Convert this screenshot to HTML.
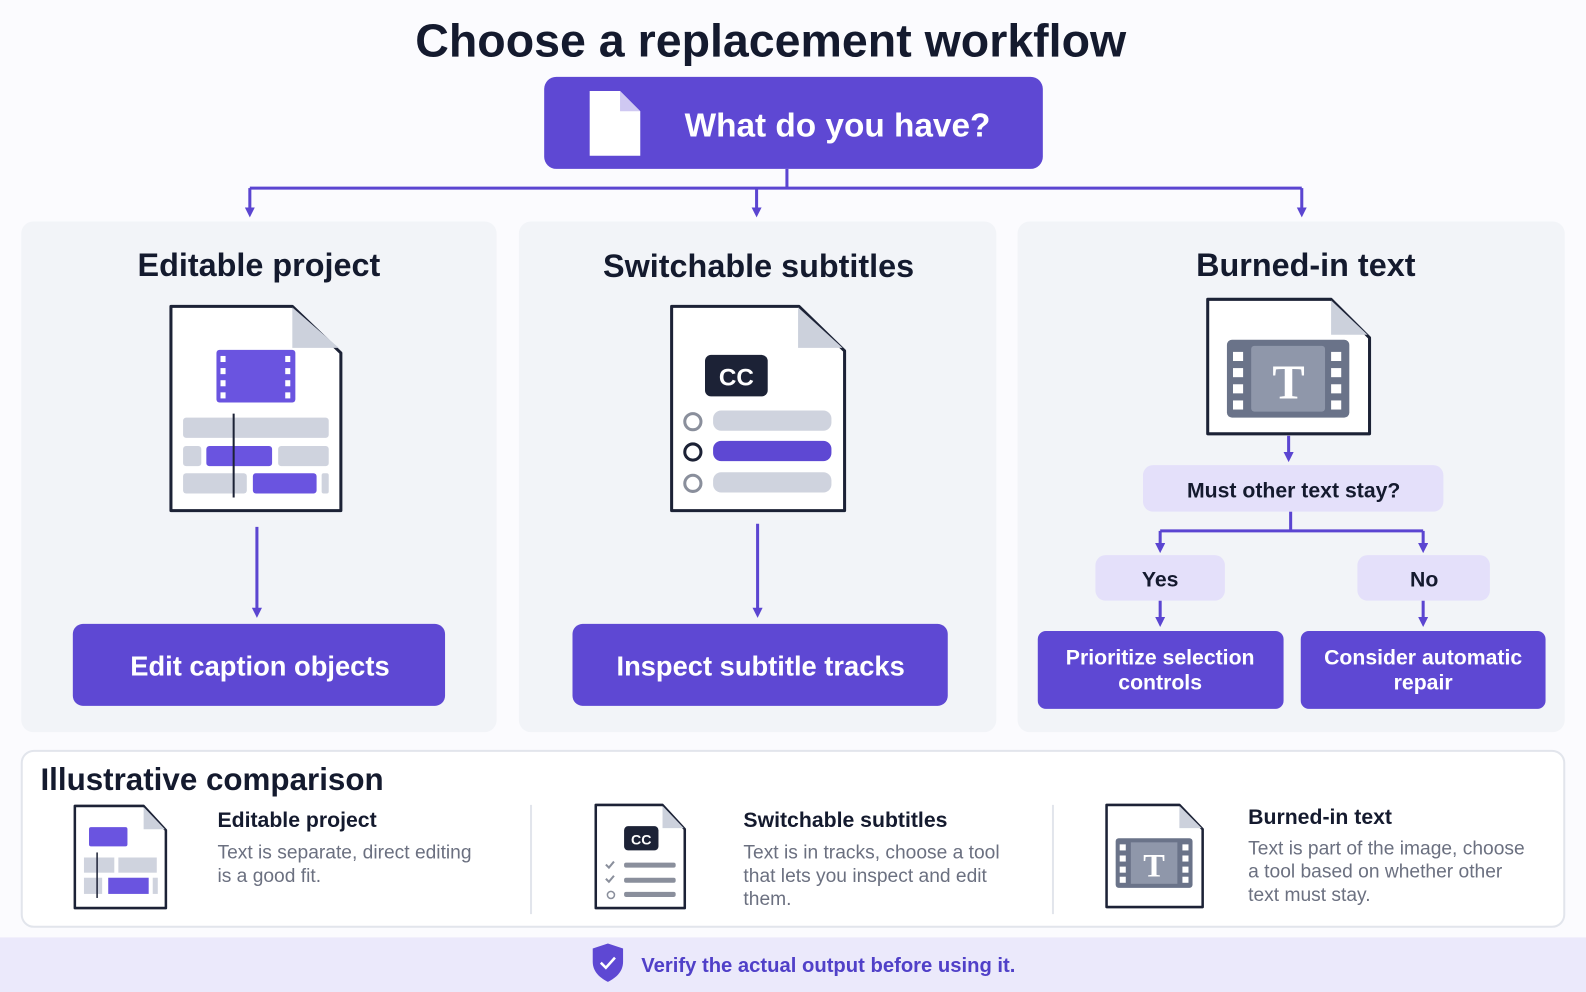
<!DOCTYPE html>
<html><head><meta charset="utf-8"><style>
html,body{margin:0;padding:0;background:#fbfbfe;}
svg{display:block;font-family:"Liberation Sans",sans-serif;}
.h{font-weight:700;fill:#141a2e;}
.w{font-weight:700;fill:#fff;}
.g{fill:#6b7080;}
</style></head><body>
<svg width="1586" height="992" viewBox="0 0 1568 981" preserveAspectRatio="none" xmlns="http://www.w3.org/2000/svg">
<defs>
<marker id="a" markerWidth="10" markerHeight="10" refX="5" refY="5" orient="auto" markerUnits="userSpaceOnUse"><path d="M0,0 L10,5 L0,10 z" fill="#5b45d1"/></marker>
</defs>
<rect width="1568" height="981" fill="#fbfbfe"/>
<text x="762" y="56" text-anchor="middle" class="h" font-size="46">Choose a replacement workflow</text>
<rect x="538" y="76" width="493" height="91" rx="12" fill="#5e48d3"/>
<path d="M583,90 h30 l20,20 v44 h-50 z" fill="#fff"/><path d="M613,90 v20 h20" fill="#cfc8f2"/>
<text x="828" y="135" text-anchor="middle" class="w" font-size="33">What do you have?</text>
<g stroke="#5b45d1" stroke-width="3" fill="none">
<path d="M778,167 V186"/><path d="M247,186 H1287"/>
<path d="M247,186 V210" marker-end="url(#a)"/><path d="M748,186 V210" marker-end="url(#a)"/><path d="M1287,186 V210" marker-end="url(#a)"/>
</g>
<rect x="21" y="219" width="470" height="505" rx="12" fill="#f2f4f8"/>
<rect x="513" y="219" width="472" height="505" rx="12" fill="#f2f4f8"/>
<rect x="1006" y="219" width="541" height="505" rx="12" fill="#f2f4f8"/>
<text x="256" y="273" text-anchor="middle" class="h" font-size="32">Editable project</text>
<text x="750" y="274" text-anchor="middle" class="h" font-size="32">Switchable subtitles</text>
<text x="1291" y="273" text-anchor="middle" class="h" font-size="32">Burned-in text</text>
<path d="M169,303 h120 l48,46 v156 h-168 z" fill="#fff" stroke="#1c2236" stroke-width="3" stroke-linejoin="round"/>
<path d="M289,304 v40 h46 z" fill="#ccd1dc"/>
<rect x="214" y="346" width="78" height="52" rx="3" fill="#6a54e0"/>
<g fill="#fff"><rect x="218" y="352" width="5" height="6"/><rect x="218" y="364" width="5" height="6"/><rect x="218" y="376" width="5" height="6"/><rect x="218" y="388" width="5" height="6"/><rect x="282" y="352" width="5" height="6"/><rect x="282" y="364" width="5" height="6"/><rect x="282" y="376" width="5" height="6"/><rect x="282" y="388" width="5" height="6"/></g>
<rect x="181" y="413" width="144" height="20" rx="3" fill="#cfd3de"/>
<rect x="181" y="441" width="18" height="20" rx="3" fill="#cfd3de"/><rect x="204" y="441" width="65" height="20" rx="3" fill="#6a54e0"/><rect x="275" y="441" width="50" height="20" rx="3" fill="#cfd3de"/>
<rect x="181" y="468" width="63" height="20" rx="3" fill="#cfd3de"/><rect x="250" y="468" width="63" height="20" rx="3" fill="#6a54e0"/><rect x="318" y="468" width="7" height="20" rx="2" fill="#cfd3de"/>
<path d="M231,409 V492" stroke="#1c2236" stroke-width="2"/>
<path d="M664,303 h126 l45,44 v158 h-171 z" fill="#fff" stroke="#1c2236" stroke-width="3" stroke-linejoin="round"/>
<path d="M789,304 v40 h44 z" fill="#ccd1dc"/>
<rect x="697" y="351" width="62" height="41" rx="6" fill="#1c2236"/>
<text x="728" y="381" text-anchor="middle" class="w" font-size="24">CC</text>
<g fill="none" stroke-width="3"><circle cx="685" cy="417" r="8" stroke="#8a8f9c"/><circle cx="685" cy="447" r="8" stroke="#1c2236"/><circle cx="685" cy="478" r="8" stroke="#8a8f9c"/></g>
<rect x="705" y="406" width="117" height="20" rx="8" fill="#cfd3de"/><rect x="705" y="436" width="117" height="20" rx="8" fill="#5e48d3"/><rect x="705" y="467" width="117" height="20" rx="8" fill="#cfd3de"/>
<path d="M1194,296 h122 l38,38 v95 h-160 z" fill="#fff" stroke="#1c2236" stroke-width="3" stroke-linejoin="round"/>
<path d="M1316,297 v34 h36 z" fill="#ccd1dc"/>
<rect x="1213" y="336" width="121" height="77" rx="5" fill="#6a7389"/>
<rect x="1237" y="342" width="73" height="65" rx="3" fill="#8f97aa"/>
<g fill="#fff"><rect x="1219" y="348" width="10" height="9"/><rect x="1219" y="364" width="10" height="9"/><rect x="1219" y="380" width="10" height="9"/><rect x="1219" y="396" width="10" height="9"/><rect x="1316" y="348" width="10" height="9"/><rect x="1316" y="364" width="10" height="9"/><rect x="1316" y="380" width="10" height="9"/><rect x="1316" y="396" width="10" height="9"/></g>
<text x="1274" y="394" text-anchor="middle" fill="#fff" font-family="Liberation Serif,serif" font-weight="700" font-size="48">T</text>
<g stroke="#5b45d1" stroke-width="3" fill="none">
<path d="M254,521 V606" marker-end="url(#a)"/><path d="M749,518 V606" marker-end="url(#a)"/>
<path d="M1274,431 V452" marker-end="url(#a)"/>
<path d="M1276,506 V525 M1147,525 H1407"/><path d="M1147,525 V542" marker-end="url(#a)"/><path d="M1407,525 V542" marker-end="url(#a)"/>
<path d="M1147,594 V615" marker-end="url(#a)"/><path d="M1407,594 V615" marker-end="url(#a)"/>
</g>
<rect x="1130" y="460" width="297" height="46" rx="10" fill="#e4e0fa"/>
<text x="1279" y="492" text-anchor="middle" class="h" font-size="21">Must other text stay?</text>
<rect x="1083" y="549" width="128" height="45" rx="10" fill="#e4e0fa"/>
<text x="1147" y="580" text-anchor="middle" class="h" font-size="21">Yes</text>
<rect x="1342" y="549" width="131" height="45" rx="10" fill="#e4e0fa"/>
<text x="1408" y="580" text-anchor="middle" class="h" font-size="21">No</text>
<rect x="72" y="617" width="368" height="81" rx="10" fill="#5e48d3"/>
<text x="257" y="668" text-anchor="middle" class="w" font-size="27">Edit caption objects</text>
<rect x="566" y="617" width="371" height="81" rx="10" fill="#5e48d3"/>
<text x="752" y="668" text-anchor="middle" class="w" font-size="27">Inspect subtitle tracks</text>
<rect x="1026" y="624" width="243" height="77" rx="8" fill="#5e48d3"/>
<text x="1147" y="657" text-anchor="middle" class="w" font-size="21">Prioritize selection</text>
<text x="1147" y="682" text-anchor="middle" class="w" font-size="21">controls</text>
<rect x="1286" y="624" width="242" height="77" rx="8" fill="#5e48d3"/>
<text x="1407" y="657" text-anchor="middle" class="w" font-size="21">Consider automatic</text>
<text x="1407" y="682" text-anchor="middle" class="w" font-size="21">repair</text>
<rect x="21.5" y="742.5" width="1525" height="174" rx="12" fill="#fff" stroke="#e2e5ec" stroke-width="2"/>
<text x="40" y="781" class="h" font-size="31">Illustrative comparison</text>
<path d="M525,796 V904 M1041,796 V904" stroke="#e2e5ec" stroke-width="2"/>
<path d="M74,797 h68 l22,24 v77 h-90 z" fill="#fff" stroke="#1c2236" stroke-width="2.5" stroke-linejoin="round"/>
<path d="M142,798 v22 h21 z" fill="#ccd1dc"/>
<rect x="88" y="818" width="38" height="19" rx="2" fill="#6a54e0"/>
<rect x="83" y="848" width="30" height="15" fill="#cfd3de"/><rect x="117" y="848" width="38" height="15" fill="#cfd3de"/>
<rect x="83" y="868" width="18" height="16" fill="#cfd3de"/><rect x="107" y="868" width="40" height="16" fill="#6a54e0"/><rect x="151" y="868" width="5" height="16" fill="#cfd3de"/>
<path d="M96,843 V888" stroke="#1c2236" stroke-width="1.5"/>
<text x="215" y="818" class="h" font-size="21">Editable project</text>
<text x="215" y="849" class="g" font-size="19">Text is separate, direct editing</text>
<text x="215" y="872" class="g" font-size="19">is a good fit.</text>
<path d="M589,796 h66 l22,24 v78 h-88 z" fill="#fff" stroke="#1c2236" stroke-width="2.5" stroke-linejoin="round"/>
<path d="M655,797 v22 h21 z" fill="#ccd1dc"/>
<rect x="617" y="817" width="34" height="24" rx="4" fill="#1c2236"/>
<text x="634" y="835" text-anchor="middle" class="w" font-size="14">CC</text>
<g fill="#8a8f9c"><rect x="617" y="853" width="51" height="5" rx="2"/><rect x="617" y="868" width="51" height="5" rx="2"/><rect x="617" y="882" width="51" height="5" rx="2"/></g>
<path d="M599,855 l3,3 5,-6 M599,869 l3,3 5,-6" stroke="#8a8f9c" stroke-width="2" fill="none"/>
<circle cx="604" cy="885" r="3.5" stroke="#8a8f9c" stroke-width="1.5" fill="none"/>
<text x="735" y="818" class="h" font-size="21">Switchable subtitles</text>
<text x="735" y="849" class="g" font-size="19">Text is in tracks, choose a tool</text>
<text x="735" y="872" class="g" font-size="19">that lets you inspect and edit</text>
<text x="735" y="895" class="g" font-size="19">them.</text>
<path d="M1094,796 h72 l23,24 v77 h-95 z" fill="#fff" stroke="#1c2236" stroke-width="2.5" stroke-linejoin="round"/>
<path d="M1166,797 v22 h22 z" fill="#ccd1dc"/>
<rect x="1103" y="829" width="76" height="49" rx="3" fill="#6a7389"/>
<rect x="1118" y="833" width="46" height="41" fill="#8f97aa"/>
<g fill="#fff"><rect x="1107" y="835" width="6" height="6"/><rect x="1107" y="846" width="6" height="6"/><rect x="1107" y="857" width="6" height="6"/><rect x="1107" y="867" width="6" height="6"/><rect x="1169" y="835" width="6" height="6"/><rect x="1169" y="846" width="6" height="6"/><rect x="1169" y="857" width="6" height="6"/><rect x="1169" y="867" width="6" height="6"/></g>
<text x="1141" y="867" text-anchor="middle" fill="#fff" font-family="Liberation Serif,serif" font-weight="700" font-size="32">T</text>
<text x="1234" y="815" class="h" font-size="21">Burned-in text</text>
<text x="1234" y="845" class="g" font-size="19">Text is part of the image, choose</text>
<text x="1234" y="868" class="g" font-size="19">a tool based on whether other</text>
<text x="1234" y="891" class="g" font-size="19">text must stay.</text>
<rect x="0" y="927" width="1568" height="54" fill="#ebe9fb"/>
<path d="M601,933 l15,5 v13 c0,10 -7,16 -15,20 c-8,-4 -15,-10 -15,-20 v-13 z" fill="#5e48d3"/>
<path d="M594,952 l5,5 9,-10" stroke="#fff" stroke-width="2.5" fill="none"/>
<text x="634" y="961" fill="#5040c8" font-weight="700" font-size="20">Verify the actual output before using it.</text>
</svg>
</body></html>
